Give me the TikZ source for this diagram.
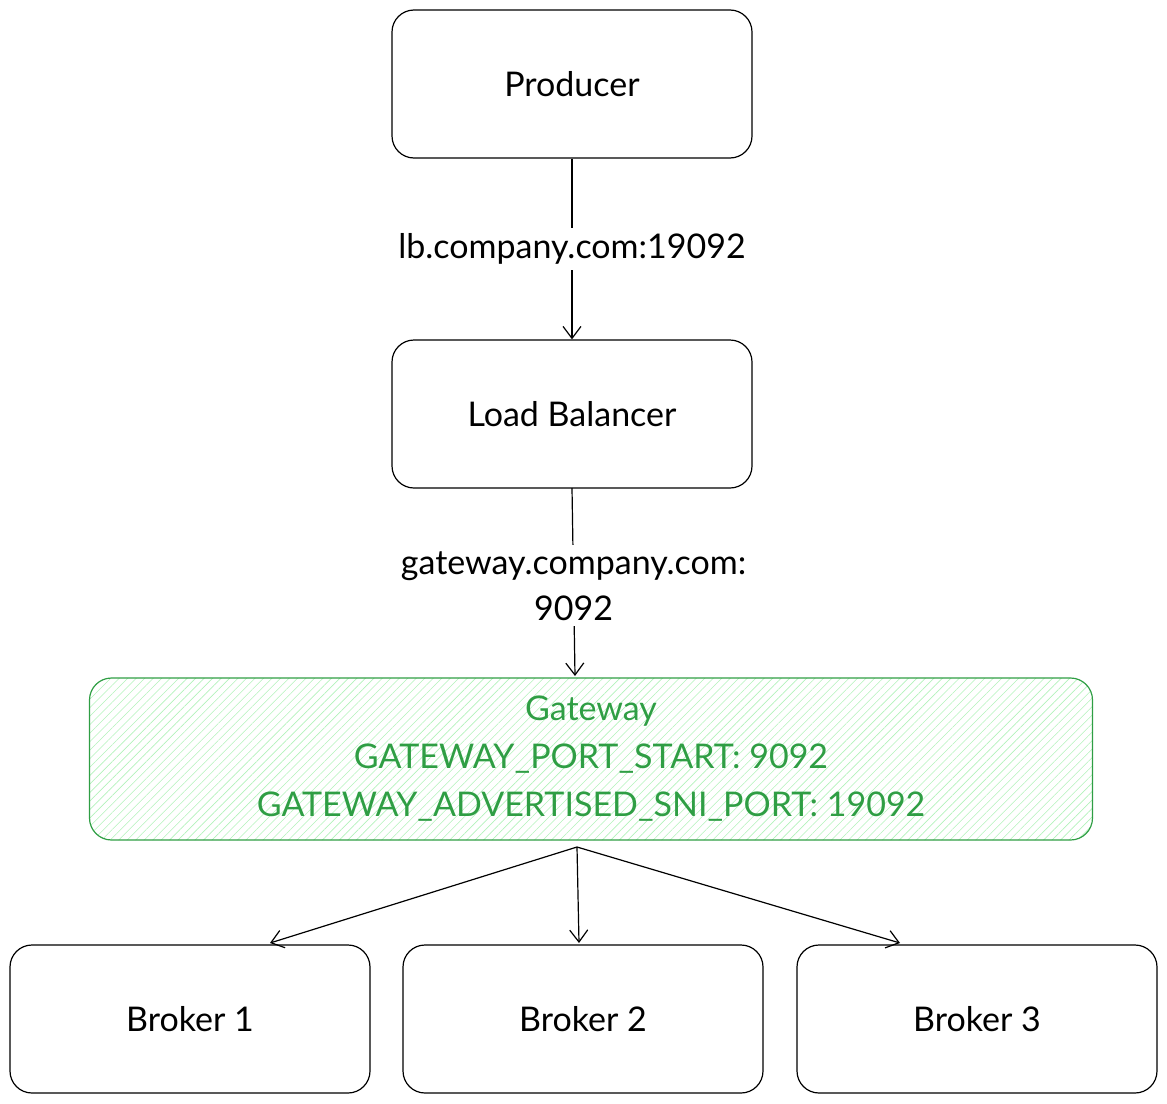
\documentclass[tikz,border=0pt]{standalone}
\usepackage{fontspec}
\setmainfont{Lato}
\usetikzlibrary{arrows.meta,patterns.meta}
\definecolor{gr}{HTML}{2F9E44}
\definecolor{grl}{HTML}{B2F2BB}
\begin{document}
\begin{tikzpicture}[x=1pt,y=-1pt,
  box/.style={draw,line width=1.2pt,rounded corners=22pt,minimum width=360pt,minimum height=148pt,font=\fontsize{34}{40}\selectfont},
  lab/.style={fill=white,font=\fontsize{34}{46}\selectfont,align=center,inner xsep=2pt,inner ysep=6pt},
  arr/.style={-{Straight Barb[length=12pt,width=18pt]},line width=1.2pt}]
\useasboundingbox (0,0) rectangle (1167,1103);
\node[box] (p) at (572,84) {Producer};
\node[box] (lb) at (572,414) {Load Balancer};
\node[draw=gr,line width=1.2pt,rounded corners=22pt,minimum width=1003pt,minimum height=162pt,
  pattern={Lines[angle=45,distance=6pt,line width=0.6pt]},pattern color=grl,
  text=gr,align=center,font=\fontsize{34}{48}\selectfont] (g) at (591,759)
  {Gateway\\GATEWAY\_PORT\_START: 9092\\GATEWAY\_ADVERTISED\_SNI\_PORT: 19092};
\node[box] (b1) at (190,1019) {Broker 1};
\node[box] (b2) at (583,1019) {Broker 2};
\node[box] (b3) at (977,1019) {Broker 3};
\draw[arr] (p) -- node[lab]{lb.company.com:19092} (lb);
\coordinate (gt) at (575,676);
\draw[arr] (572,488) -- node[lab,pos=0.52]{gateway.company.com:\\9092} (gt);
\coordinate (gb) at (577,847);
\draw[arr] (gb) -- (270,943);
\draw[arr] (gb) -- (579,943);
\draw[arr] (gb) -- (900,943);
\end{tikzpicture}
\end{document}
